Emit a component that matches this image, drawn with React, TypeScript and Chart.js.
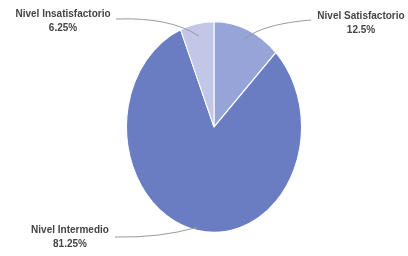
import React, { useEffect, useRef } from "react";
import { Chart, registerables } from "chart.js";

Chart.register(...registerables);

const categories = ["Nivel Satisfactorio", "Nivel Intermedio", "Nivel Insatisfactorio"];
const values = [12.5, 81.25, 6.25];
const valueLabels = ["12.5%", "81.25%", "6.25%"];
const colors = ["#97A4D7", "#6A7DC2", "#C2C7E8"];

// layout of outside labels (text centre, leader start, leader control, depth into slice)
const LABEL_LAYOUT = [
  { tx: 361, ty: 16, sx: 311, sy: 20, cx: 262, cy: 24, f: 0.9 },
  { tx: 70, ty: 230, sx: 115, sy: 237, cx: 160, cy: 238, f: 0.97 },
  { tx: 63, ty: 14, sx: 116, sy: 19, cx: 170, cy: 17, f: 0.88 },
];
const STRETCH_Y = 106 / 88;

const stretchPlugin = {
  id: "stretch",
  beforeDatasetsDraw(chart: any) {
    const a = chart.getDatasetMeta(0).data[0];
    const ctx = chart.ctx;
    ctx.save();
    ctx.translate(a.x, a.y);
    ctx.scale(1, STRETCH_Y);
    ctx.translate(-a.x, -a.y);
  },
  afterDatasetsDraw(chart: any) {
    chart.ctx.restore();
  },
};

const labelPlugin = {
  id: "outLabels",
  afterDraw(chart: any) {
    const ctx = chart.ctx;
    const meta = chart.getDatasetMeta(0);
    meta.data.forEach((arc: any, i: number) => {
      const L = LABEL_LAYOUT[i];
      const mid = (arc.startAngle + arc.endAngle) / 2;
      const ex = arc.x + Math.cos(mid) * arc.outerRadius * L.f;
      const ey = arc.y + Math.sin(mid) * arc.outerRadius * L.f * STRETCH_Y;
      ctx.save();
      ctx.strokeStyle = "#9a9a9a";
      ctx.lineWidth = 1;
      ctx.beginPath();
      ctx.moveTo(L.sx, L.sy);
      ctx.quadraticCurveTo(L.cx, L.cy, ex, ey);
      ctx.stroke();
      ctx.fillStyle = "#454545";
      ctx.font = "bold 10px 'Liberation Sans', Arial, sans-serif";
      ctx.textAlign = "center";
      ctx.textBaseline = "middle";
      ctx.fillText(categories[i], L.tx, L.ty);
      ctx.fillText(valueLabels[i], L.tx, L.ty + 14);
      ctx.restore();
    });
  },
};

export default function App() {
  const ref = useRef<HTMLCanvasElement>(null);
  useEffect(() => {
    if (!ref.current) return;
    const chart = new Chart(ref.current, {
      type: "pie",
      data: {
        labels: categories,
        datasets: [
          {
            data: values,
            backgroundColor: colors,
            borderColor: "#ffffff",
            borderWidth: 1,
          },
        ],
      },
      options: {
        responsive: true,
        maintainAspectRatio: false,
        animation: false,
        layout: { padding: { left: 20, right: 0, top: 39, bottom: 41 } },
        plugins: { legend: { display: false }, tooltip: { enabled: false } },
      },
      plugins: [stretchPlugin, labelPlugin],
    });
    return () => chart.destroy();
  }, []);
  return (
    <div style={{ position: "absolute", left: 0, top: 0, width: 408, height: 256, background: "#fff" }}>
      <canvas ref={ref} />
    </div>
  );
}
